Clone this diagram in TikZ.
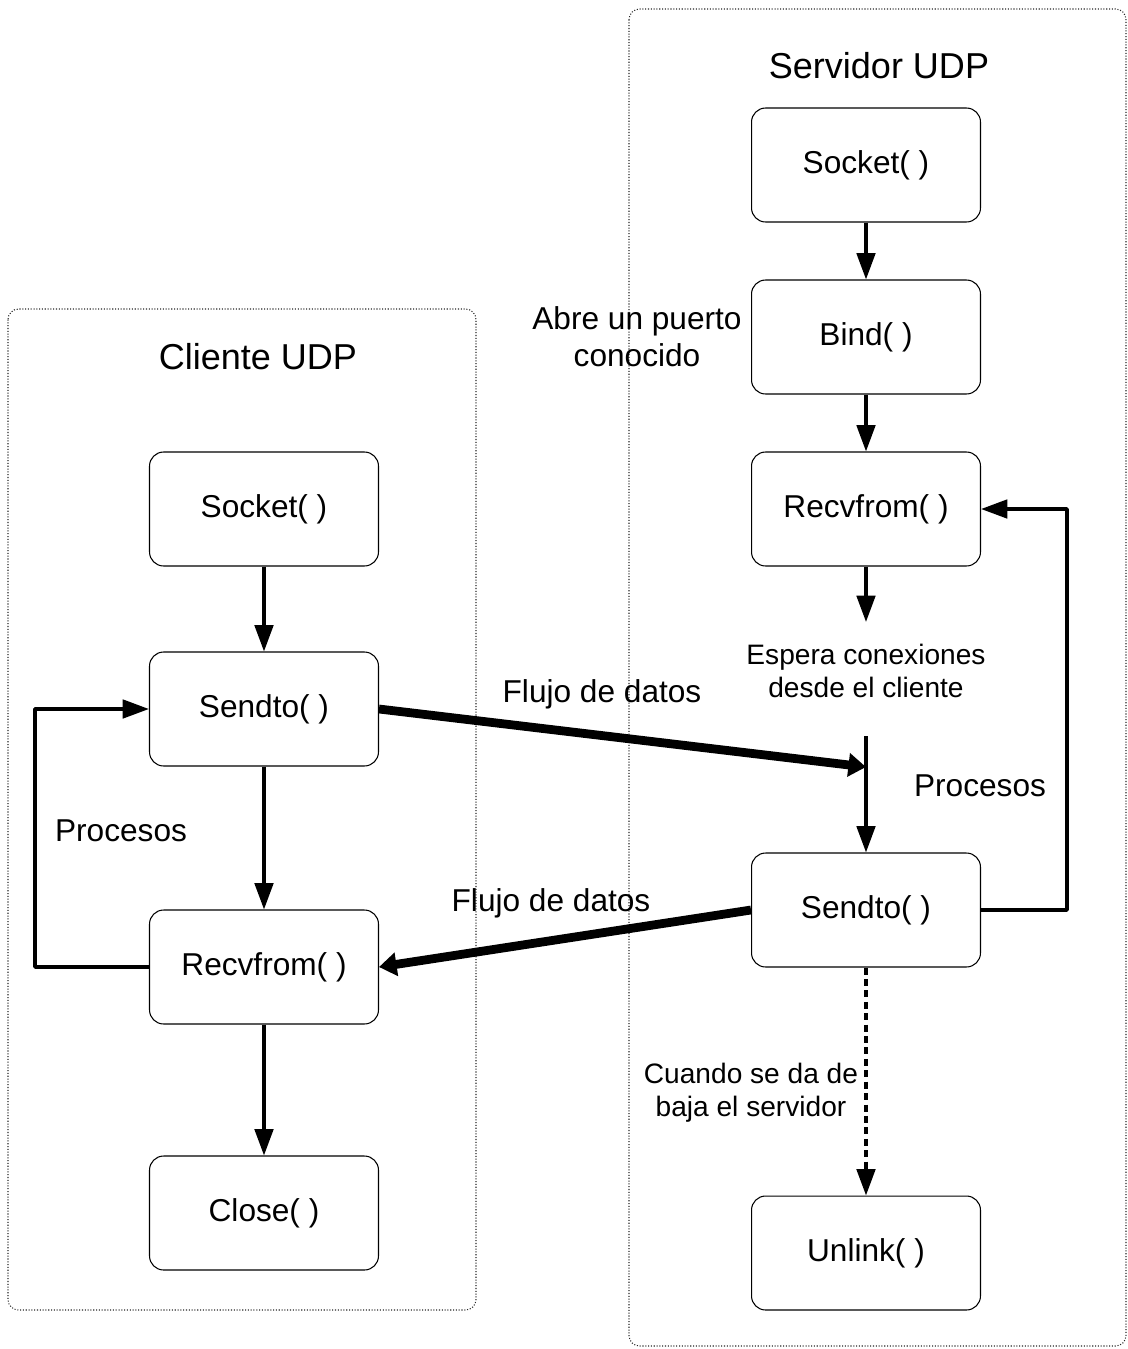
\documentclass[tikz,border=0pt]{standalone}
\usepackage{fontspec}
\setmainfont{Liberation Sans}
\usetikzlibrary{arrows.meta}

\tikzset{
  caja/.style={draw, rounded corners=8pt, minimum width=4.58cm, minimum height=2.28cm,
    line width=0.6pt, font=\fontsize{18}{21}\selectfont},
  marco/.style={draw=black!85, densely dotted, line width=0.6pt, rounded corners=6pt},
  titulo/.style={font=\fontsize{20.5}{24}\selectfont},
  etiqueta/.style={font=\fontsize{18}{21}\selectfont, align=center},
  nota/.style={font=\fontsize{16}{19}\selectfont, align=center},
  flecha/.style={-{Triangle[length=15pt,width=10.5pt]}, line width=2pt},
  flujo/.style={-{Triangle[length=10pt,width=13pt]}, line width=5pt},
}

\begin{document}
\begin{tikzpicture}[x=0.02cm, y=-0.02cm, line join=round]
			\useasboundingbox (0,0) rectangle (1128,1349);
			% contenedores
			\draw[marco] (629,9) rectangle (1126,1346);
			\draw[marco] (8,309) rectangle (476,1310);
			\node[titulo] (tserv) at (879,66) {Servidor UDP};
			\node[titulo] (tcli) at (258,357) {Cliente UDP};
			% servidor
			\node[caja] (ssock) at (866,165) {Socket( )};
			\node[caja] (sbind) at (866,337) {Bind( )};
			\node[caja] (srecv) at (866,509) {Recvfrom( )};
			\node[caja] (ssend) at (866,910) {Sendto( )};
			\node[caja] (sunl) at (866,1253) {Unlink( )};
			% cliente
			\node[caja] (csock) at (264,509) {Socket( )};
			\node[caja] (csend) at (264,709) {Sendto( )};
			\node[caja] (crecv) at (264,967) {Recvfrom( )};
			\node[caja] (cclose) at (264,1213) {Close( )};
			% textos
			\node[etiqueta] (abre) at (637,337) {Abre un puerto\\conocido};
			\node[nota] (espera) at (866,671) {Espera conexiones\\desde el cliente};
			\node[etiqueta] (sproc) at (980,786) {Procesos};
			\node[etiqueta] (cproc) at (121,831) {Procesos};
			\node[etiqueta] (flujo1) at (602,694) {Flujo de datos};
			\node[etiqueta] (flujo2) at (551,903) {Flujo de datos};
			\node[nota] (baja) at (751,1093) {Cuando se da de\\baja el servidor};
			\coordinate (fin) at (866,622);
			\coordinate (ini) at (866,736);
			\coordinate (cruce) at (866,767);
			% flechas servidor
			\draw[flecha] (ssock) -- (sbind);
			\draw[flecha] (sbind) -- (srecv);
			\draw[flecha] (srecv) -- (fin);
			\draw[flecha] (ini) -- (ssend);
			\draw[flecha] (ssend.east) -- ++(86,0) |- (srecv.east);
			\draw[flecha, dash pattern=on 4pt off 2.5pt] (ssend) -- (sunl);
			% flechas cliente
			\draw[flecha] (csock) -- (csend);
			\draw[flecha] (csend) -- (crecv);
			\draw[flecha] (crecv) -- (cclose);
			\draw[flecha] (crecv.west) -- ++(-114,0) |- (csend.west);
			% flujo de datos
			\draw[flujo] (csend.east) -- (cruce);
			\draw[flujo] (ssend.west) -- (crecv.east);
		\end{tikzpicture}
\end{document}
